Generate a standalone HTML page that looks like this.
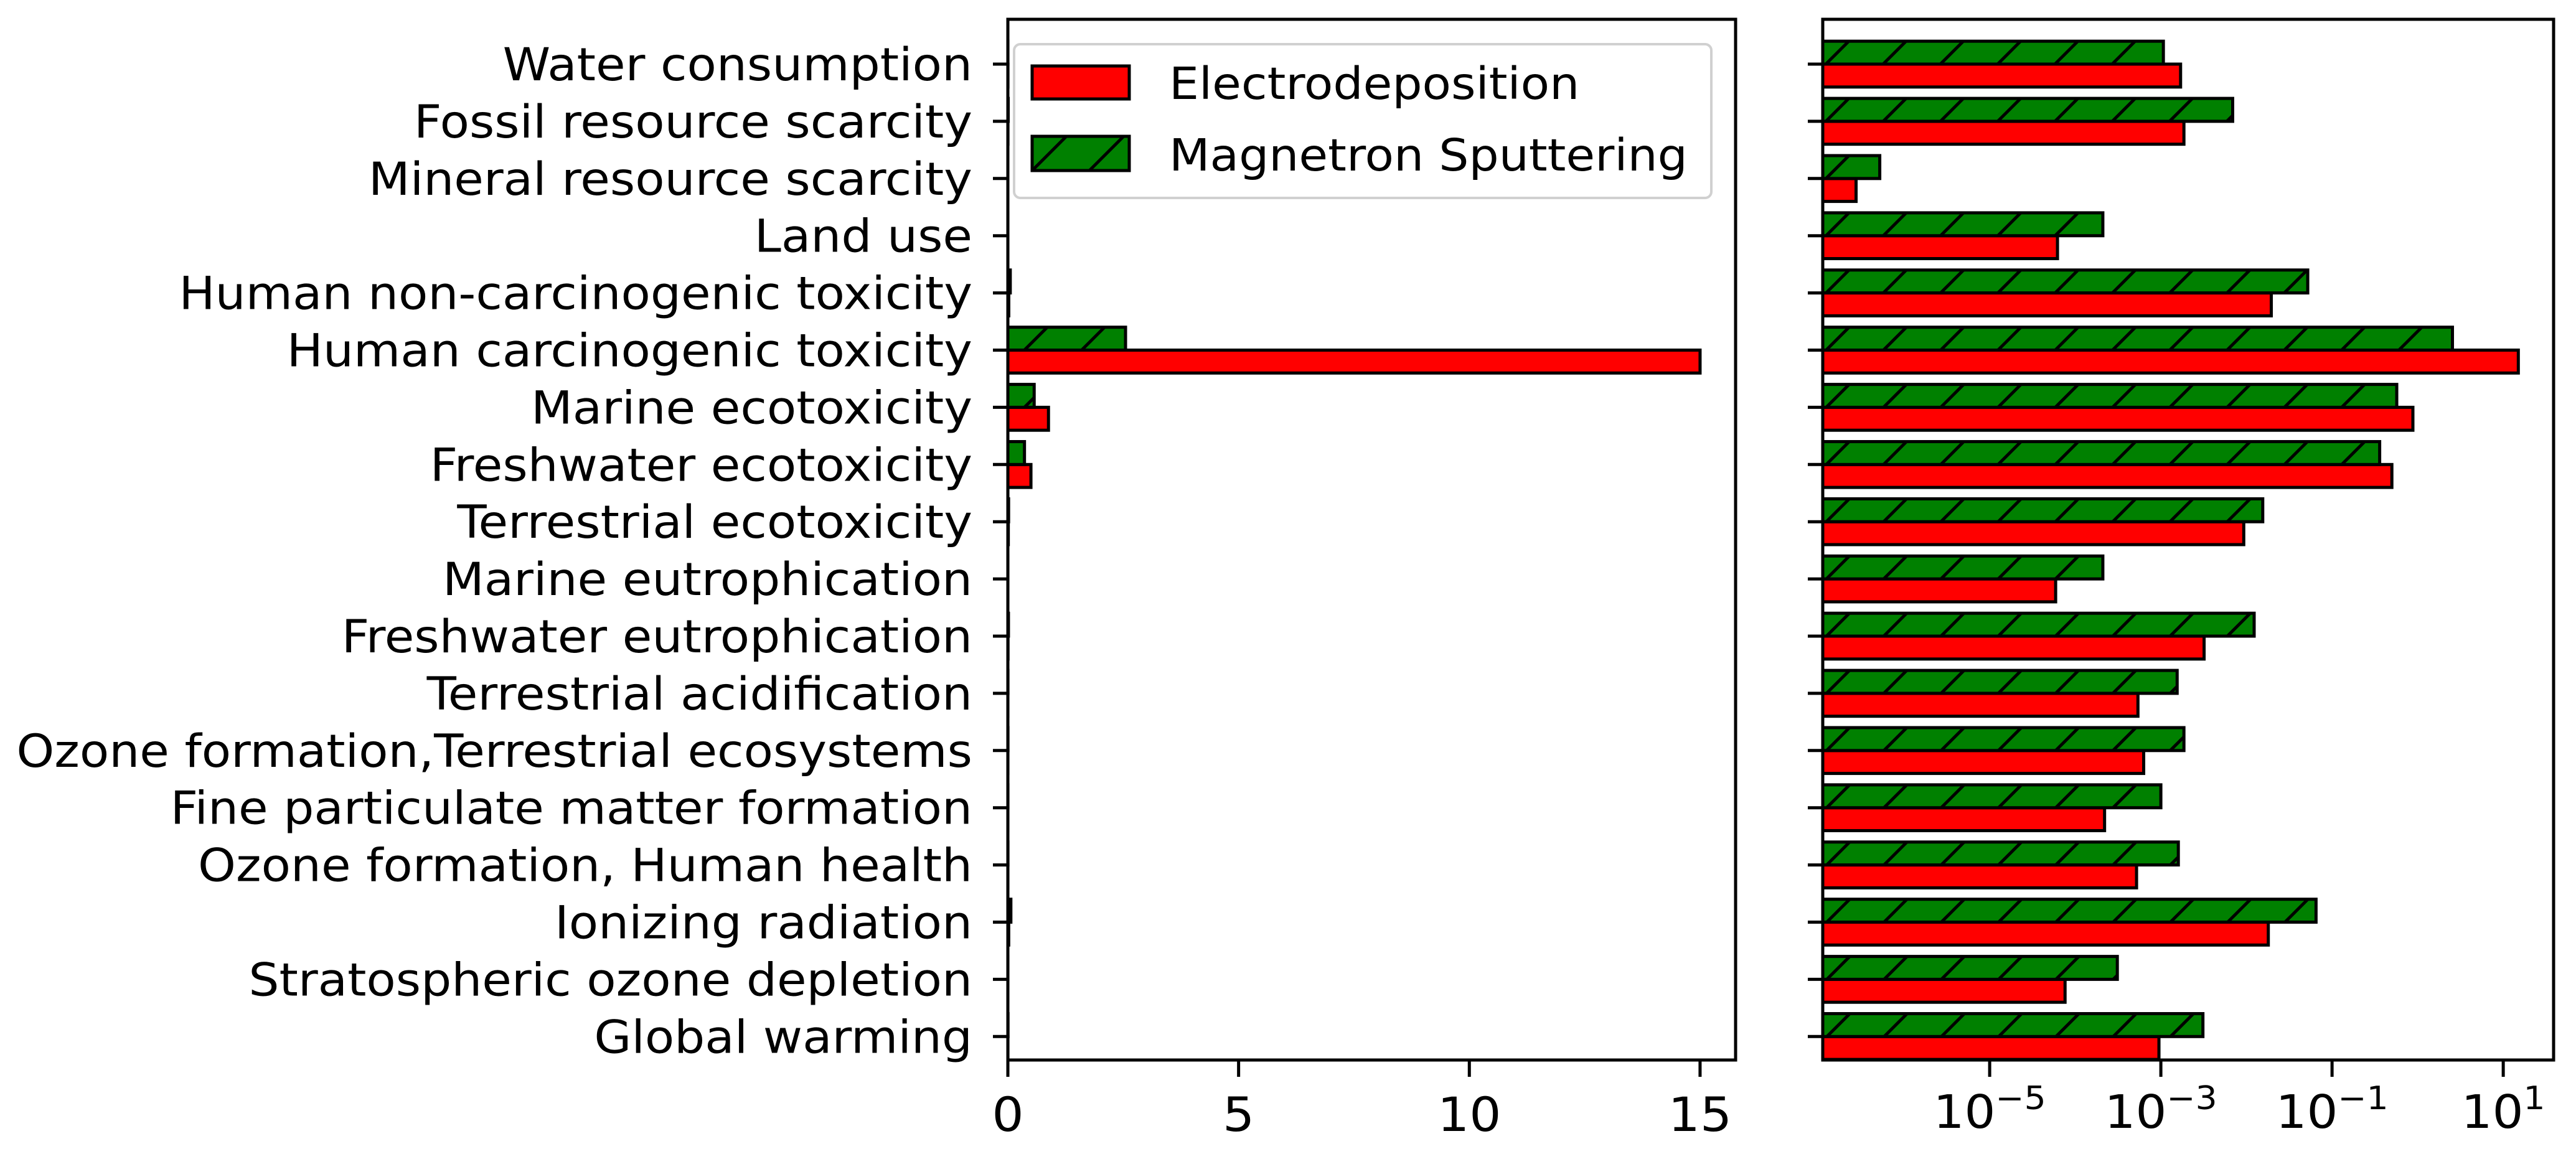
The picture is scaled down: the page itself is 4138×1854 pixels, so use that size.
<!DOCTYPE html>
<html><head><meta charset="utf-8"><style>
html,body{margin:0;padding:0;background:#fff;}
svg{display:block;font-family:"DejaVu Sans","Liberation Sans",sans-serif;}
</style></head><body>
<svg id="chart" width="4138" height="1854" viewBox="0 0 4138 1854" xmlns="http://www.w3.org/2000/svg">
<defs>
<pattern id="hatch" patternUnits="userSpaceOnUse" width="92" height="92">
<rect width="92" height="92" fill="#008000"/>
<path d="M-10,102 L102,-10 M-56,56 L56,-56 M36,148 L148,36" stroke="#000" stroke-width="5"/>
</pattern>
</defs>
<g id="left"></g>
<g id="right"></g>
<g id="legend">
<rect x="1629" y="71" width="1120" height="247" rx="10" fill="#fff" fill-opacity="0.8" stroke="#d0d0d0" stroke-width="4"/>
<rect x="1658" y="106" width="156" height="53" fill="#ff0000" stroke="#000" stroke-width="5"/>
<text x="1878" y="159" font-size="71" transform="translate(1878,0) scale(1.07,1) translate(-1878,0)">Electrodeposition</text>
<rect x="1658" y="219" width="156" height="55" fill="url(#hatch)" stroke="#000" stroke-width="5"/>
<text x="1878" y="274" font-size="71" transform="translate(1878,0) scale(1.07,1) translate(-1878,0)">Magnetron Sputtering</text>
</g>
</svg>
<script>
const categories = ["Water consumption","Fossil resource scarcity","Mineral resource scarcity","Land use","Human non-carcinogenic toxicity","Human carcinogenic toxicity","Marine ecotoxicity","Freshwater ecotoxicity","Terrestrial ecotoxicity","Marine eutrophication","Freshwater eutrophication","Terrestrial acidification","Ozone formation,Terrestrial ecosystems","Fine particulate matter formation","Ozone formation, Human health","Ionizing radiation","Stratospheric ozone depletion","Global warming"];
const electrodeposition = [0.0017,0.00186,2.75e-7,6.2e-5,0.0195,15,0.88,0.5,0.0093,5.9e-5,0.0032,5.4e-4,6.3e-4,2.2e-4,5.2e-4,0.018,7.6e-5,9.5e-4];
const magnetron = [1.07e-3,6.9e-3,5.2e-7,2.1e-4,0.052,2.55,0.57,0.36,0.0155,2.1e-4,0.0123,1.55e-3,1.86e-3,1.0e-3,1.6e-3,0.065,3.1e-4,3.1e-3];
const linearTicks = [0,5,10,15];
const logTickExps = [-5,-3,-1,1];

const NS="http://www.w3.org/2000/svg";
function mk(parent,tag,attrs){const e=document.createElementNS(NS,tag);for(const k in attrs)e.setAttribute(k,attrs[k]);parent.appendChild(e);return e;}
const TOP=31,BOT=1703;
function yOf(i){return 103+i*91.9;}
const BH=36.8;
const L={x0:1619,x1:2788,max:15.77};
function xLin(v){return L.x0+v/L.max*(L.x1-L.x0);}
const R={x0:2928,x1:4102,lmin:-6.95,pd:137.5};
function xLog(v){return R.x0+(Math.log10(v)-R.lmin)*R.pd;}
function sx(x,s){return 'translate('+x+',0) scale('+s+',1) translate('+(-x)+',0)';}

const lg=document.getElementById('left'), rg=document.getElementById('right');
function drawPanel(g,x0,x1,xf,pfx){
  categories.forEach((c,i)=>{
    const y=yOf(i);
    let r=mk(g,'rect',{x:x0,y:y,width:Math.max(0,xf(electrodeposition[i])-x0),height:BH,fill:'#ff0000',stroke:'#000','stroke-width':5});
    
    
    let gr=mk(g,'rect',{x:x0,y:y-BH,width:Math.max(0,xf(magnetron[i])-x0),height:BH,fill:'url(#hatch)',stroke:'#000','stroke-width':5});
    
    
    let t=mk(g,'line',{x1:x0-24,x2:x0,y1:y,y2:y,stroke:'#000','stroke-width':5});
    
    
  });
  let f=mk(g,'rect',{x:x0,y:TOP,width:x1-x0,height:BOT-TOP,fill:'none',stroke:'#000','stroke-width':5});
  
  
}
drawPanel(lg,L.x0,L.x1,xLin,'linear');
drawPanel(rg,R.x0,R.x1,xLog,'log');
categories.forEach((c,i)=>{
  const t=mk(lg,'text',{x:1562,y:yOf(i)+26,'text-anchor':'end','font-size':73,transform:sx(1562,1.06)});
  t.textContent=c;
  
  
});
linearTicks.forEach(v=>{
  const x=xLin(v);
  let l=mk(lg,'line',{x1:x,x2:x,y1:BOT,y2:BOT+27,stroke:'#000','stroke-width':5});
  
  
  let t=mk(lg,'text',{x:x,y:1817,'text-anchor':'middle','font-size':76,transform:sx(x,1.06)});
  t.textContent=String(v);
  
  
});
logTickExps.forEach(e=>{
  const x=xLog(Math.pow(10,e));
  let l=mk(rg,'line',{x1:x,x2:x,y1:BOT,y2:BOT+27,stroke:'#000','stroke-width':5});
  
  
  const sup=(e<0?'\u2212':'')+Math.abs(e);
  let t=mk(rg,'text',{x:x,y:1812,'text-anchor':'middle','font-size':74,transform:sx(x,1.06)});
  
  
  const a=document.createElementNS(NS,'tspan');a.textContent='10';t.appendChild(a);
  const b=document.createElementNS(NS,'tspan');b.setAttribute('dy','-30');b.setAttribute('font-size','52');b.textContent=sup;t.appendChild(b);
});
</script>
</body></html>
